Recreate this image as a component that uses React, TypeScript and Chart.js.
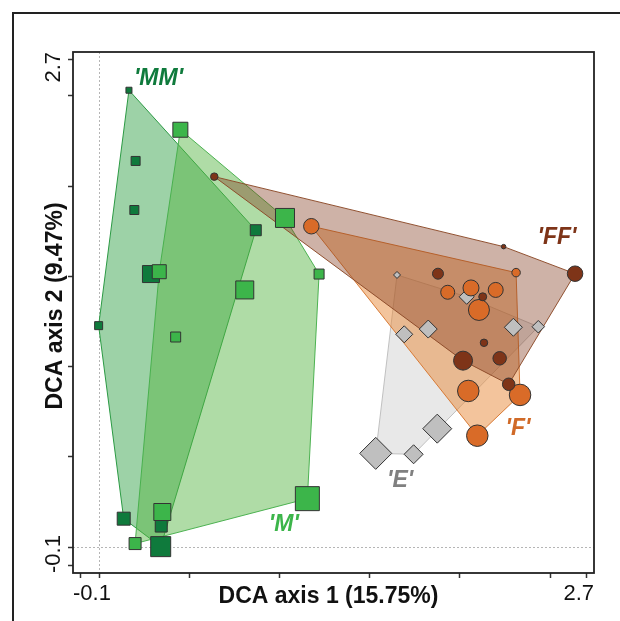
import React, { useEffect, useRef } from 'react';
import { Chart, registerables } from 'chart.js';

Chart.register(...registerables);

// ---- Data (DCA sample scores: axis 1 = x, axis 2 = y) ----
const mmX = [0.166, 0.203, 0.196, 0.288, 0.869, -0.002, 0.137, 0.345, 0.342];
const mmY = [2.532, 2.140, 1.868, 1.513, 1.756, 1.227, 0.157, 0.116, 0.002];
const mmSize = [7, 10, 10, 18, 12, 9, 14, 13, 21];

const mX = [0.451, 1.031, 0.334, 1.220, 0.808, 0.425, 0.351, 0.200, 1.155];
const mY = [2.313, 1.824, 1.526, 1.513, 1.425, 1.164, 0.194, 0.019, 0.268];
const mSize = [16, 20, 15, 11, 19, 11, 18, 13, 25];

const ffX = [0.639, 2.243, 2.639, 1.879, 2.127, 2.134, 2.018, 2.221, 2.271];
const ffY = [2.053, 1.665, 1.515, 1.515, 1.387, 1.132, 1.033, 1.046, 0.902];
const ffSize = [8.5, 5.5, 16.5, 12, 9, 8.5, 20, 14.5, 13.5];

const fX = [1.177, 2.312, 1.933, 2.062, 2.199, 2.106, 2.047, 2.334, 2.097];
const fY = [1.778, 1.521, 1.412, 1.436, 1.425, 1.314, 0.865, 0.843, 0.617];
const fSize = [16.5, 9.5, 15, 17, 16, 22, 22.5, 22.5, 22.5];

const eX = [1.652, 2.038, 1.825, 1.692, 2.297, 2.435, 1.875, 1.534, 1.744];
const eY = [1.508, 1.387, 1.208, 1.179, 1.218, 1.221, 0.656, 0.519, 0.514];
const eSize = [8, 16, 19, 18, 19, 13.5, 30, 33, 20];

const groupNames = ["'MM'", "'M'", "'FF'", "'F'", "'E'"];
const groupLabelX = [0.330, 1.025, 2.539, 2.323, 1.669];
const groupLabelY = [2.597, 0.122, 1.713, 0.656, 0.366];

const axisTicks = [-0.1, 0, 0.5, 1, 1.5, 2, 2.5, 2.7];
const xTitle = 'DCA axis 1 (15.75%)';
const yTitle = 'DCA axis 2 (9.47%)';

// ---- styling ----
const AX_MIN = -26 / 180.4;
const AX_MAX = 495 / 180.4;
const FONT = '"Liberation Sans", Arial, Helvetica, sans-serif';

const C = {
  mm: '#0f7a3c',
  m: '#3cb54a',
  ff: '#7e3418',
  f: '#d96b28',
  e: '#bfbfbf',
};
const labelColors = ['#0f7a3c', '#3cb54a', '#7e3418', '#d06a28', '#808080'];

type P = { x: number; y: number };

function hull(xs: number[], ys: number[]): P[] {
  const pts: P[] = xs.map((x, i) => ({ x, y: ys[i] })).sort((a, b) => a.x - b.x || a.y - b.y);
  const cross = (o: P, a: P, b: P) => (a.x - o.x) * (b.y - o.y) - (a.y - o.y) * (b.x - o.x);
  const lower: P[] = [];
  for (const p of pts) {
    while (lower.length >= 2 && cross(lower[lower.length - 2], lower[lower.length - 1], p) <= 0) lower.pop();
    lower.push(p);
  }
  const upper: P[] = [];
  for (let i = pts.length - 1; i >= 0; i--) {
    const p = pts[i];
    while (upper.length >= 2 && cross(upper[upper.length - 2], upper[upper.length - 1], p) <= 0) upper.pop();
    upper.push(p);
  }
  upper.pop();
  lower.pop();
  const h = lower.concat(upper);
  return [...h, h[0]];
}

function hullDs(xs: number[], ys: number[], fill: string, stroke: string, order: number) {
  return {
    type: 'line',
    data: hull(xs, ys),
    fill: 'shape',
    backgroundColor: fill,
    borderColor: stroke,
    borderWidth: 1,
    pointRadius: 0,
    pointHoverRadius: 0,
    tension: 0,
    order,
  };
}

function markerDs(xs: number[], ys: number[], sizes: number[], style: string, color: string, order: number) {
  const radius = sizes.map((s) => {
    if (style === 'rect') return (s - 1) / (2 * Math.SQRT1_2); // side -> radius
    return (s - 1) / 2; // diameter/diagonal -> radius
  });
  return {
    type: 'scatter',
    data: xs.map((x, i) => ({ x, y: ys[i] })),
    pointStyle: style,
    pointRadius: radius,
    pointHoverRadius: radius,
    pointBackgroundColor: color,
    pointBorderColor: '#333333',
    pointBorderWidth: 1,
    backgroundColor: color,
    borderColor: '#333333',
    showLine: false,
    order,
  };
}

const decorPlugin = {
  id: 'decor',
  beforeDraw(chart: any) {
    const ctx = chart.ctx;
    ctx.save();
    ctx.fillStyle = '#ffffff';
    ctx.fillRect(0, 0, chart.width, chart.height);
    ctx.strokeStyle = '#222222';
    ctx.lineWidth = 2;
    ctx.strokeRect(13, 13, chart.width + 40, chart.height + 40);
    ctx.restore();
  },
  beforeDatasetsDraw(chart: any) {
    const ctx = chart.ctx;
    const { left, right, top, bottom } = chart.chartArea;
    const x0 = chart.scales.x.getPixelForValue(0);
    const y0 = chart.scales.y.getPixelForValue(0);
    ctx.save();
    ctx.strokeStyle = '#b5b5b5';
    ctx.lineWidth = 1;
    ctx.setLineDash([2, 2]);
    ctx.beginPath();
    ctx.moveTo(Math.round(x0) + 0.5, top);
    ctx.lineTo(Math.round(x0) + 0.5, bottom);
    ctx.moveTo(left, Math.round(y0) + 0.5);
    ctx.lineTo(right, Math.round(y0) + 0.5);
    ctx.stroke();
    ctx.restore();
  },
  afterDatasetsDraw(chart: any) {
    const ctx = chart.ctx;
    ctx.save();
    ctx.font = `italic bold 23px ${FONT}`;
    ctx.textAlign = 'center';
    ctx.textBaseline = 'middle';
    groupNames.forEach((name, i) => {
      ctx.fillStyle = labelColors[i];
      ctx.fillText(name, chart.scales.x.getPixelForValue(groupLabelX[i]), chart.scales.y.getPixelForValue(groupLabelY[i]));
    });
    ctx.restore();
  },
  afterDraw(chart: any) {
    const ctx = chart.ctx;
    const { left, right, top, bottom } = chart.chartArea;
    ctx.save();
    // plot box
    ctx.strokeStyle = '#222222';
    ctx.lineWidth = 1.8;
    ctx.strokeRect(left, top, right - left, bottom - top);
    // y tick labels (rotated)
    ctx.fillStyle = '#111111';
    ctx.font = `22px ${FONT}`;
    ctx.textBaseline = 'alphabetic';
    ctx.save();
    ctx.translate(60, bottom);
    ctx.rotate(-Math.PI / 2);
    ctx.textAlign = 'left';
    ctx.fillText(String(axisTicks[0]), 0, 0);
    ctx.restore();
    ctx.save();
    ctx.translate(60, top);
    ctx.rotate(-Math.PI / 2);
    ctx.textAlign = 'right';
    ctx.fillText(String(axisTicks[axisTicks.length - 1]), 0, 0);
    ctx.restore();
    // axis titles
    ctx.font = `bold 23px ${FONT}`;
    ctx.textAlign = 'center';
    ctx.fillText(xTitle, 328.5, 603);
    ctx.save();
    ctx.translate(62, 306);
    ctx.rotate(-Math.PI / 2);
    ctx.fillText(yTitle, 0, 0);
    ctx.restore();
    ctx.restore();
  },
};

export default function App() {
  const ref = useRef<HTMLCanvasElement | null>(null);

  useEffect(() => {
    if (!ref.current) return;
    const xTickVals = [AX_MIN, ...axisTicks, AX_MAX];
    const chart = new Chart(ref.current, {
      type: 'scatter',
      data: {
        datasets: [
          hullDs(mmX, mmY, 'rgba(46,160,67,0.47)', 'rgba(35,150,60,0.95)', 20),
          hullDs(mX, mY, 'rgba(86,180,66,0.47)', 'rgba(70,175,75,0.95)', 19),
          hullDs(eX, eY, 'rgba(185,185,185,0.33)', 'rgba(190,190,190,0.95)', 18),
          hullDs(fX, fY, 'rgba(232,138,58,0.5)', 'rgba(214,118,47,0.95)', 17),
          hullDs(ffX, ffY, 'rgba(126,52,24,0.38)', 'rgba(140,74,40,0.95)', 16),
          markerDs(eX, eY, eSize, 'rectRot', C.e, 5),
          markerDs(fX, fY, fSize, 'circle', C.f, 4),
          markerDs(ffX, ffY, ffSize, 'circle', C.ff, 3),
          markerDs(mmX, mmY, mmSize, 'rect', C.mm, 2),
          markerDs(mX, mY, mSize, 'rect', C.m, 1),
        ] as any,
      },
      options: {
        responsive: false,
        animation: false,
        devicePixelRatio: 1,
        layout: { padding: { left: 0, top: 52, right: 26, bottom: 0 } },
        plugins: {
          legend: { display: false },
          tooltip: { enabled: false },
        },
        events: [],
        scales: {
          x: {
            type: 'linear',
            min: AX_MIN,
            max: AX_MAX,
            afterBuildTicks: (s: any) => {
              s.ticks = xTickVals.map((v) => ({ value: v }));
            },
            afterFit: (s: any) => {
              s.height = 48;
            },
            ticks: {
              autoSkip: false,
              align: 'inner',
              padding: 3,
              maxRotation: 0,
              minRotation: 0,
              color: '#111111',
              font: { family: FONT, size: 22 },
              callback: (_v: any, i: number) =>
                i === 0 ? String(axisTicks[0]) : i === xTickVals.length - 1 ? String(axisTicks[axisTicks.length - 1]) : '',
            },
            grid: {
              drawOnChartArea: false,
              drawTicks: true,
              tickLength: 5,
              tickWidth: 1.5,
              color: 'rgba(0,0,0,0)',
              tickColor: (c: any) => (c.index === 0 || c.index === xTickVals.length - 1 ? 'rgba(0,0,0,0)' : '#333333'),
            },
            border: { display: false },
          },
          y: {
            type: 'linear',
            min: AX_MIN,
            max: AX_MAX,
            afterBuildTicks: (s: any) => {
              s.ticks = axisTicks.map((v) => ({ value: v }));
            },
            afterFit: (s: any) => {
              s.width = 73;
            },
            ticks: { display: false },
            grid: {
              drawOnChartArea: false,
              drawTicks: true,
              tickLength: 5,
              tickWidth: 1.5,
              color: 'rgba(0,0,0,0)',
              tickColor: '#333333',
            },
            border: { display: false },
          },
        },
      } as any,
      plugins: [decorPlugin],
    });
    return () => chart.destroy();
  }, []);

  return (
    <div style={{ position: 'fixed', left: 0, top: 0, width: 620, height: 621, background: '#fff' }}>
      <canvas ref={ref} width={620} height={621} style={{ display: 'block' }} />
    </div>
  );
}
